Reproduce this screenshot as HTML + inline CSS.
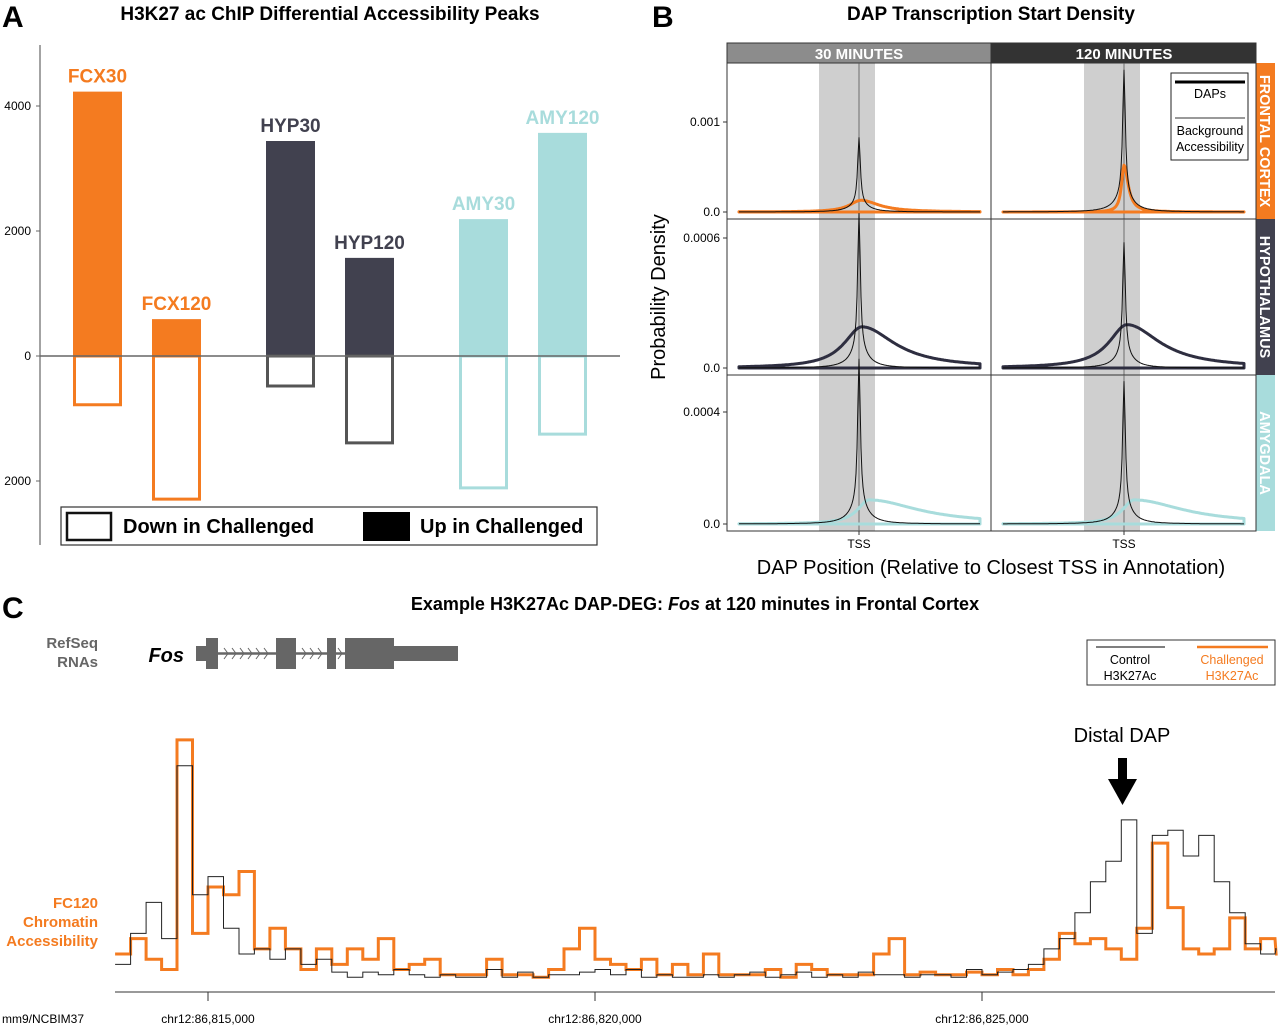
<!DOCTYPE html>
<html><head><meta charset="utf-8">
<style>
html,body{margin:0;padding:0;background:#fff;}
svg{display:block;font-family:"Liberation Sans",Arial,sans-serif;}
</style></head>
<body>
<svg id="fig" width="1280" height="1027" viewBox="0 0 1280 1027" xmlns="http://www.w3.org/2000/svg">
<!-- Panel A -->
<g id="panelA">
<text x="2" y="27" font-size="30" font-weight="bold">A</text>
<text x="330" y="20" font-size="19" font-weight="bold" text-anchor="middle">H3K27 ac ChIP Differential Accessibility Peaks</text>
<line x1="40" y1="45" x2="40" y2="545" stroke="#666" stroke-width="1.2"/>
<g id="aBars"></g>
<line x1="40" y1="356" x2="620" y2="356" stroke="#666" stroke-width="1.5"/>
<g id="aTicks"></g>
<g>
<rect x="61" y="507" width="536" height="38" fill="#fff" stroke="#333" stroke-width="1.2"/>
<rect x="67" y="513" width="44" height="27" fill="#fff" stroke="#111" stroke-width="2.5"/>
<text x="123" y="533" font-size="20" font-weight="bold">Down in Challenged</text>
<rect x="363" y="512" width="47" height="29" fill="#000"/>
<text x="420" y="533" font-size="20" font-weight="bold">Up in Challenged</text>
</g>
</g>
<!-- Panel B -->
<g id="panelB">
<text x="652" y="27" font-size="30" font-weight="bold">B</text>
<text x="991" y="20" font-size="19" font-weight="bold" text-anchor="middle">DAP Transcription Start Density</text>
<rect x="727" y="43" width="264" height="20" fill="#8c8c8c" stroke="#333" stroke-width="1"/>
<text x="859" y="59" font-size="15" font-weight="bold" fill="#fff" text-anchor="middle">30 MINUTES</text>
<rect x="991" y="43" width="265" height="20" fill="#333" stroke="#333" stroke-width="1"/>
<text x="1124" y="59" font-size="15" font-weight="bold" fill="#fff" text-anchor="middle">120 MINUTES</text>
<rect x="1256" y="63" width="19" height="156" fill="#f47b20"/>
<text transform="translate(1260,141) rotate(90)" font-size="14.5" font-weight="bold" fill="#fff" text-anchor="middle">FRONTAL CORTEX</text>
<rect x="1256" y="219" width="19" height="156" fill="#41414f"/>
<text transform="translate(1260,297) rotate(90)" font-size="14.5" font-weight="bold" fill="#fff" text-anchor="middle">HYPOTHALAMUS</text>
<rect x="1256" y="375" width="19" height="156" fill="#a8dcdc"/>
<text transform="translate(1260,453) rotate(90)" font-size="14.5" font-weight="bold" fill="#fff" text-anchor="middle">AMYGDALA</text>
<g id="bPanels"></g>
<text x="859" y="548" font-size="12" text-anchor="middle">TSS</text>
<text x="1124" y="548" font-size="12" text-anchor="middle">TSS</text>
<text x="991" y="574" font-size="20" text-anchor="middle">DAP Position (Relative to Closest TSS in Annotation)</text>
<text transform="translate(665,297) rotate(-90)" font-size="20" text-anchor="middle">Probability Density</text>
<g>
<rect x="1171" y="73" width="77" height="87" fill="#fff" stroke="#222" stroke-width="1"/>
<line x1="1175" y1="82" x2="1245" y2="82" stroke="#000" stroke-width="3"/>
<text x="1210" y="98" font-size="12.5" text-anchor="middle">DAPs</text>
<line x1="1175" y1="118" x2="1245" y2="118" stroke="#333" stroke-width="1"/>
<text x="1210" y="135" font-size="12.5" text-anchor="middle">Background</text>
<text x="1210" y="151" font-size="12.5" text-anchor="middle">Accessibility</text>
</g>
</g>
<!-- Panel C -->
<g id="panelC">
<text x="2" y="618" font-size="30" font-weight="bold">C</text>
<text x="695" y="610" font-size="18" font-weight="bold" text-anchor="middle">Example H3K27Ac DAP-DEG: <tspan font-style="italic">Fos</tspan> at 120 minutes in Frontal Cortex</text>
<text x="98" y="648" font-size="15" font-weight="bold" fill="#666" text-anchor="end">RefSeq</text>
<text x="98" y="667" font-size="15" font-weight="bold" fill="#666" text-anchor="end">RNAs</text>
<text x="184" y="662" font-size="20" font-weight="bold" font-style="italic" text-anchor="end">Fos</text>
<g fill="#666">
<rect x="196" y="646" width="12" height="15"/>
<rect x="394" y="646" width="64" height="15"/>
<rect x="206" y="638" width="12" height="31"/>
<rect x="276" y="638" width="20" height="31"/>
<rect x="327" y="638" width="9" height="31"/>
<rect x="345" y="638" width="49" height="31"/>
<line x1="218" y1="653.5" x2="276" y2="653.5" stroke="#666" stroke-width="2.5"/>
<line x1="296" y1="653.5" x2="327" y2="653.5" stroke="#666" stroke-width="2.5"/>
<line x1="336" y1="653.5" x2="345" y2="653.5" stroke="#666" stroke-width="2.5"/>
<path d="M224 648 l4 5.5 l-4 5.5 M232 648 l4 5.5 l-4 5.5 M240 648 l4 5.5 l-4 5.5 M248 648 l4 5.5 l-4 5.5 M256 648 l4 5.5 l-4 5.5 M264 648 l4 5.5 l-4 5.5 M302 648 l4 5.5 l-4 5.5 M310 648 l4 5.5 l-4 5.5 M318 648 l4 5.5 l-4 5.5 M338 648 l4 5.5 l-4 5.5" stroke="#666" stroke-width="1" fill="none"/>
</g>
<g>
<rect x="1087" y="640" width="188" height="45" fill="#fff" stroke="#333" stroke-width="1"/>
<line x1="1096" y1="647" x2="1165" y2="647" stroke="#333" stroke-width="1.2"/>
<text x="1130" y="664" font-size="12.5" text-anchor="middle">Control</text>
<text x="1130" y="680" font-size="12.5" text-anchor="middle">H3K27Ac</text>
<line x1="1197" y1="647" x2="1268" y2="647" stroke="#f47b20" stroke-width="2.5"/>
<text x="1232" y="664" font-size="12.5" fill="#f47b20" text-anchor="middle">Challenged</text>
<text x="1232" y="680" font-size="12.5" fill="#f47b20" text-anchor="middle">H3K27Ac</text>
</g>
<text x="1122" y="742" font-size="20" text-anchor="middle">Distal DAP</text>
<g>
<rect x="1118" y="758" width="9" height="22" fill="#000"/>
<polygon points="1108,779 1137,779 1122.5,805" fill="#000"/>
</g>
<text x="98" y="908" font-size="15" font-weight="bold" fill="#f47b20" text-anchor="end">FC120</text>
<text x="98" y="927" font-size="15" font-weight="bold" fill="#f47b20" text-anchor="end">Chromatin</text>
<text x="98" y="946" font-size="15" font-weight="bold" fill="#f47b20" text-anchor="end">Accessibility</text>
<g id="cTracks"></g>
<line x1="115" y1="992" x2="1275" y2="992" stroke="#333" stroke-width="1"/>
<g id="cTicks"></g>
<text x="2" y="1023" font-size="12">mm9/NCBIM37</text>
</g>
</svg>
<script>
// ---------- Panel A data ----------
const aCategories = ["FCX30","FCX120","HYP30","HYP120","AMY30","AMY120"];
const aUp = [4230, 590, 3440, 1570, 2190, 3570];
const aDown = [780, 2290, 480, 1390, 2110, 1250];
const aColors = ["#f47b20","#f47b20","#41414f","#41414f","#a8dcdc","#a8dcdc"];
const aDownStroke = ["#f47b20","#f47b20","#555","#555","#a8dcdc","#a8dcdc"];
const aTickVals = [4000, 2000, 0, -2000];
const aTickLabels = ["4000","2000","0","2000"];
const aBarX = [73,152,266,345,459,538];

// ---------- Panel B data ----------
const bRows = ["frontal","hypothalamus","amygdala"];
const bCols = ["30","120"];
const bDapPeak = [[0.00083,0.00158],[0.000715,0.00058],[0.00059,0.00051]];
const bBgPeak = [[0.00013,0.00052],[0.00019,0.0002],[0.000086,0.000086]];
const bBgWidthL = [[14,3],[22,22],[14,14]];
const bBgWidthR = [[22,5],[40,40],[60,60]];
const bBgShift = [[2,0],[3,3],[10,10]];
const bTickVals = [[0.001,0.0],[0.0006,0.0],[0.0004,0.0]];
const bTickLabels = [["0.001","0.0"],["0.0006","0.0"],["0.0004","0.0"]];
const bBgColors = ["#f47b20","#2e2e40","#a8dcdc"];

// ---------- Panel C data ----------
const cStartKb = 86813.8;
const cStepKb = 0.2;
const cControl = [8,20,32,18,85,35,42,22,12,14,10,14,8,10,5,3,5,4,6,4,3,4,3,3,6,3,5,3,4,4,5,6,4,6,3,4,3,3,4,3,4,5,3,4,5,3,4,3,5,4,4,3,4,4,3,6,4,5,6,8,14,18,28,40,48,64,20,58,60,50,58,40,28,16,12,14];
const cChallenged = [12,18,10,6,95,20,38,35,44,14,22,14,6,14,8,14,10,18,6,8,10,4,4,4,10,4,4,3,6,14,22,10,8,6,10,4,8,4,12,4,4,4,6,3,8,6,4,4,4,12,18,4,5,4,4,5,4,6,4,6,10,20,16,18,14,10,22,55,30,14,12,14,26,14,18,12];
const cTickKb = [86815, 86820, 86825];
const cTickLabels = ["chr12:86,815,000","chr12:86,820,000","chr12:86,825,000"];

const NS = "http://www.w3.org/2000/svg";
function mk(tag, attrs, parent){
  const e = document.createElementNS(NS, tag);
  for (const k in attrs) e.setAttribute(k, attrs[k]);
  parent.appendChild(e);
  return e;
}

// Panel A
const aY = v => 356 - v * 0.0625;
const aBars = document.getElementById("aBars");
aCategories.forEach((c, i) => {
  const x = aBarX[i];
  const up = mk("rect", {x: x, y: aY(aUp[i]), width: 49, height: aY(0) - aY(aUp[i]), fill: aColors[i]}, aBars);
  
  
  const dn = mk("rect", {x: x + 1.5, y: aY(0), width: 46, height: aY(-aDown[i]) - aY(0), fill: "#fff", stroke: aDownStroke[i], "stroke-width": 3}, aBars);
  
  
  const t = mk("text", {x: x + 24.5, y: aY(aUp[i]) - 9, "font-size": 19, "font-weight": "bold", fill: aColors[i], "text-anchor": "middle"}, aBars);
  t.textContent = c;
  
  
});
const aTicks = document.getElementById("aTicks");
aTickVals.forEach((v, i) => {
  const y = aY(v);
  const l = mk("line", {x1: 36, y1: y, x2: 40, y2: y, stroke: "#666"}, aTicks);
  
  
  const t = mk("text", {x: 31, y: y + 4, "font-size": 12, "text-anchor": "end"}, aTicks);
  t.textContent = aTickLabels[i];
  
  
});

// Panel B
const bP = document.getElementById("bPanels");
const rowTop = [63,219,375];
const rowZero = [212,368,524];
const rowTickPx = [[122,212],[238,368],[412,524]];
const colLeft = [727,991];
const colTss = [859,1124];
function dapShape(d){ return 0.88 / (1 + Math.pow(d / 1.6, 2)) + 0.12 / (1 + Math.pow(d / 10, 2)); }
function bgShape(d, r, c){
  const dd = d - bBgShift[r][c];
  const w = dd < 0 ? bBgWidthL[r][c] : bBgWidthR[r][c];
  return 1 / (1 + Math.pow(dd / w, 2));
}
for (let r = 0; r < 3; r++) {
  const scale = (rowZero[r] - rowTickPx[r][0]) / bTickVals[r][0];
  const yOf = v => rowZero[r] - v * scale;
  for (let c = 0; c < 2; c++) {
    const g = mk("g", {}, bP);
    
    
    const x0 = colLeft[c];
    mk("rect", {x: x0, y: rowTop[r], width: c ? 265 : 264, height: 156, fill: "#fff", stroke: "#333", "stroke-width": 1}, g);
    mk("rect", {x: colTss[c] - 40, y: rowTop[r] + 0.5, width: 56, height: 155, fill: "#cfcfcf"}, g);
    mk("line", {x1: colTss[c], y1: rowTop[r], x2: colTss[c], y2: rowTop[r] + 156, stroke: "#555", "stroke-width": 0.8}, g);
    const xa = x0 + 12, xb = x0 + 253;
    let pb = "", pd = "";
    for (let x = xa; x <= xb; x += 1) {
      const d = x - colTss[c];
      pb += (x === xa ? "M" : "L") + x + " " + yOf(bBgPeak[r][c] * bgShape(d, r, c)).toFixed(1) + " ";
      pd += (x === xa ? "M" : "L") + x + " " + yOf(bDapPeak[r][c] * dapShape(d)).toFixed(1) + " ";
    }
    pb += "L" + xb + " " + rowZero[r] + " L" + xa + " " + rowZero[r] + " Z";
    const bg = mk("path", {d: pb, fill: "none", stroke: bBgColors[r], "stroke-width": 3, "stroke-linejoin": "round"}, g);
    
    
    const dp = mk("path", {d: pd, fill: "none", stroke: "#111", "stroke-width": 1}, g);
    
    
    mk("line", {x1: colTss[c], y1: rowTop[r] + 156, x2: colTss[c], y2: rowTop[r] + 160, stroke: "#333"}, bP);
  }
  bTickVals[r].forEach((v, k) => {
    const y = yOf(v);
    mk("line", {x1: 723, y1: y, x2: 727, y2: y, stroke: "#333"}, bP);
    const t = mk("text", {x: 720, y: y + 4, "font-size": 12, "text-anchor": "end"}, bP);
    t.textContent = bTickLabels[r][k];
    
    
  });
}

// Panel C
const cX = kb => 208 + (kb - 86815) * 77.4;
const cY = v => 985 - v * 2.58;
function stepPath(vals){
  let p = "";
  vals.forEach((v, i) => {
    const x1 = cX(cStartKb + i * cStepKb), x2 = cX(cStartKb + (i + 1) * cStepKb);
    const y = cY(v).toFixed(1);
    p += (i === 0 ? "M" : "L") + x1.toFixed(1) + " " + y + " L" + Math.min(x2, 1275).toFixed(1) + " " + y + " ";
  });
  return p;
}
const cT = document.getElementById("cTracks");
const ch = mk("path", {d: stepPath(cChallenged), fill: "none", stroke: "#f47b20", "stroke-width": 3}, cT);


const co = mk("path", {d: stepPath(cControl), fill: "none", stroke: "#222", "stroke-width": 1}, cT);


const cTk = document.getElementById("cTicks");
cTickKb.forEach((kb, i) => {
  const x = cX(kb);
  mk("line", {x1: x, y1: 992, x2: x, y2: 1001, stroke: "#333"}, cTk);
  const t = mk("text", {x: x, y: 1023, "font-size": 12, "text-anchor": "middle"}, cTk);
  t.textContent = cTickLabels[i];
  
  
});
</script>
</body></html>
